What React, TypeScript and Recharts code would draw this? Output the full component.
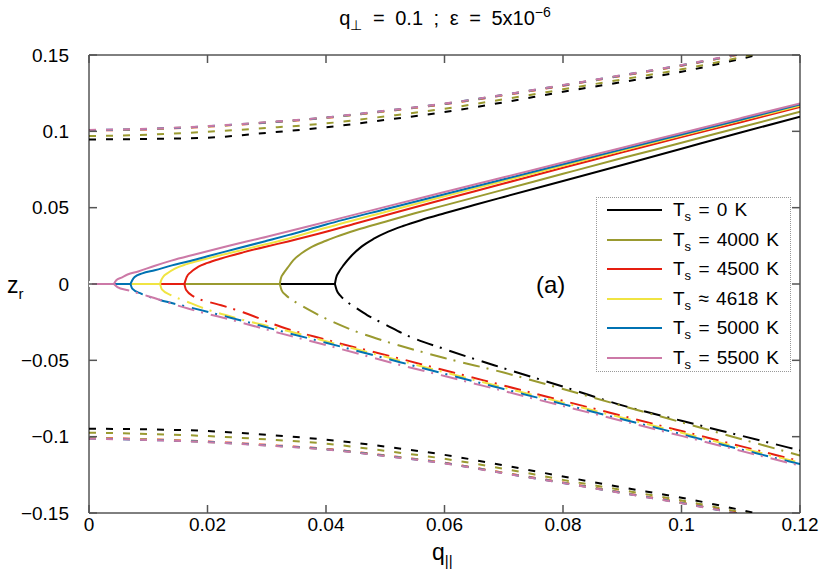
import { Line, LineChart, XAxis, YAxis } from "recharts";

type Pt = [number, number];

const Q_TICKS = [0, 0.02, 0.04, 0.06, 0.08, 0.1, 0.12];
const Z_TICKS = [-0.15, -0.1, -0.05, 0, 0.05, 0.1, 0.15];

const TEMPS = ["= 0 K", "= 4000 K", "= 4500 K", "≈ 4618 K", "= 5000 K", "= 5500 K"];
const COLORS = ["#000000", "#9a9a30", "#e51e10", "#f0e442", "#0072b2", "#cc79a7"];

// q where each curve leaves z = 0
const BRANCH_Q = [0.0415, 0.0322, 0.0161, 0.012, 0.007, 0.0042];

// outer (dashed) branches, sampled on a common q grid
const OUTER_Q = [0, 0.01, 0.02, 0.03, 0.04, 0.05, 0.06, 0.07, 0.08, 0.09, 0.1, 0.11, 0.116];

const topBlack = [0.0947, 0.095, 0.0958, 0.099, 0.1026, 0.1075, 0.1126, 0.119, 0.1259, 0.1323, 0.139, 0.1475, 0.153];
const topOlive = [0.0969, 0.0978, 0.0997, 0.1022, 0.1052, 0.1098, 0.1148, 0.121, 0.1275, 0.134, 0.1406, 0.1485, 0.154];
const topRed = [0.1005, 0.1013, 0.1031, 0.1057, 0.1088, 0.1131, 0.1178, 0.1236, 0.1299, 0.1364, 0.143, 0.1505, 0.1553];
const topYellow = [0.1006, 0.1015, 0.1032, 0.1058, 0.1089, 0.1133, 0.118, 0.1238, 0.1301, 0.1366, 0.1432, 0.1507, 0.1556];
const topBlue = [0.1008, 0.1016, 0.1033, 0.1059, 0.109, 0.1134, 0.1181, 0.1239, 0.1302, 0.1367, 0.1433, 0.1508, 0.1558];
const topPink = [0.1009, 0.1017, 0.1034, 0.106, 0.1091, 0.1135, 0.1182, 0.124, 0.1303, 0.1368, 0.1434, 0.151, 0.156];

const bottomBlack = [-0.0948, -0.0952, -0.0963, -0.0988, -0.102, -0.1065, -0.1119, -0.1188, -0.1261, -0.1332, -0.14, -0.148, -0.153];
const bottomOlive = [-0.0974, -0.0982, -0.0996, -0.1018, -0.1046, -0.1093, -0.1145, -0.121, -0.1283, -0.135, -0.1418, -0.1495, -0.154];
const bottomRed = [-0.1008, -0.1017, -0.1032, -0.1054, -0.108, -0.1123, -0.1171, -0.1236, -0.13, -0.1366, -0.1432, -0.1506, -0.1553];
const bottomYellow = [-0.101, -0.1019, -0.1034, -0.1056, -0.1082, -0.1125, -0.1173, -0.1238, -0.1302, -0.1368, -0.1434, -0.1508, -0.1556];
const bottomBlue = [-0.1012, -0.1021, -0.1035, -0.1057, -0.1083, -0.1126, -0.1174, -0.1239, -0.1303, -0.1369, -0.1435, -0.1509, -0.1558];
const bottomPink = [-0.1013, -0.1022, -0.1036, -0.1058, -0.1084, -0.1127, -0.1175, -0.124, -0.1304, -0.137, -0.1436, -0.151, -0.156];

// inner upper branches (solid)
const upperBlack: Pt[] = [
  [0.0415, 0], [0.0417, 0.004], [0.0422, 0.008], [0.043, 0.0125], [0.0443, 0.0185], [0.046, 0.0245],
  [0.048, 0.0295], [0.0505, 0.0343], [0.053, 0.038], [0.056, 0.0418], [0.06, 0.0463], [0.065, 0.0517],
  [0.07, 0.057], [0.08, 0.0675], [0.09, 0.078], [0.1, 0.0886], [0.11, 0.0992], [0.12, 0.1096],
];
const upperOlive: Pt[] = [
  [0.0322, 0], [0.0324, 0.004], [0.0328, 0.0068], [0.0335, 0.0105], [0.0345, 0.0156], [0.036, 0.0205],
  [0.0373, 0.0237], [0.04, 0.0283], [0.0418, 0.031], [0.045, 0.0352], [0.05, 0.0408], [0.055, 0.0463],
  [0.06, 0.0515], [0.07, 0.0618], [0.08, 0.0722], [0.09, 0.0825], [0.1, 0.0925], [0.11, 0.1027], [0.12, 0.1128],
];
const upperRed: Pt[] = [
  [0.0161, 0], [0.0163, 0.0025], [0.0165, 0.0046], [0.0172, 0.0078], [0.0184, 0.0112], [0.02, 0.0138],
  [0.0223, 0.0167], [0.026, 0.0207], [0.03, 0.0246], [0.0336, 0.0279], [0.04, 0.0342], [0.045, 0.0396],
  [0.0525, 0.0477], [0.06, 0.0555], [0.07, 0.0658], [0.08, 0.0762], [0.09, 0.0862], [0.1, 0.0962],
  [0.11, 0.106], [0.12, 0.116],
];
const upperYellow: Pt[] = [
  [0.012, 0], [0.0122, 0.0025], [0.0125, 0.0046], [0.0133, 0.0072], [0.0145, 0.0101], [0.0165, 0.013],
  [0.0195, 0.0162], [0.025, 0.0215], [0.03, 0.0262], [0.0336, 0.0297], [0.04, 0.0368], [0.05, 0.0472],
  [0.06, 0.0574], [0.07, 0.0675], [0.08, 0.0775], [0.09, 0.0874], [0.1, 0.0972], [0.11, 0.107], [0.12, 0.1168],
];
const upperBlue: Pt[] = [
  [0.007, 0], [0.0073, 0.0025], [0.0077, 0.0046], [0.009, 0.007], [0.0111, 0.009], [0.014, 0.0122],
  [0.0167, 0.0147], [0.02, 0.0182], [0.025, 0.0232], [0.03, 0.0283], [0.0336, 0.032], [0.04, 0.039],
  [0.05, 0.049], [0.06, 0.0588], [0.07, 0.0686], [0.08, 0.0784], [0.09, 0.0882], [0.1, 0.0979],
  [0.11, 0.1076], [0.12, 0.1176],
];
const upperPink: Pt[] = [
  [0.0042, 0], [0.0046, 0.0025], [0.0055, 0.0042], [0.0065, 0.0062], [0.0083, 0.0082], [0.011, 0.0118],
  [0.0139, 0.0153], [0.018, 0.0195], [0.0223, 0.0238], [0.03, 0.031], [0.04, 0.0407], [0.05, 0.0505],
  [0.06, 0.0602], [0.07, 0.0699], [0.08, 0.0796], [0.09, 0.0893], [0.1, 0.0989], [0.11, 0.1086], [0.12, 0.1183],
];

// inner lower branches (dash-dot)
const lowerBlack: Pt[] = [
  [0.0415, 0], [0.0418, -0.004], [0.0425, -0.008], [0.0435, -0.0115], [0.045, -0.0155], [0.047, -0.0205],
  [0.05, -0.0265], [0.0536, -0.0336], [0.06, -0.0426], [0.07, -0.0552], [0.08, -0.0672], [0.09, -0.0795],
  [0.1, -0.0896], [0.11, -0.0993], [0.12, -0.109],
];
const lowerOlive: Pt[] = [
  [0.0322, 0], [0.0325, -0.004], [0.0332, -0.0072], [0.0345, -0.011], [0.036, -0.0145], [0.038, -0.0188],
  [0.0412, -0.0249], [0.045, -0.031], [0.05, -0.0375], [0.055, -0.0432], [0.06, -0.0485], [0.07, -0.058],
  [0.08, -0.0688], [0.09, -0.0798], [0.1, -0.0906], [0.11, -0.1015], [0.12, -0.1123],
];
const lowerRed: Pt[] = [
  [0.0161, 0], [0.0164, -0.004], [0.0178, -0.0085], [0.02, -0.0115], [0.0223, -0.0139], [0.026, -0.0185],
  [0.0325, -0.0282], [0.04, -0.0365], [0.0525, -0.0489], [0.06, -0.0565], [0.07, -0.0665], [0.08, -0.0765],
  [0.09, -0.0864], [0.1, -0.0963], [0.11, -0.1062], [0.12, -0.116],
];
const lowerYellow: Pt[] = [
  [0.012, 0], [0.0123, -0.0035], [0.0139, -0.0074], [0.0165, -0.0115], [0.0195, -0.0161], [0.025, -0.0225],
  [0.0325, -0.0297], [0.04, -0.0375], [0.0525, -0.0502], [0.06, -0.0578], [0.07, -0.0678], [0.08, -0.0777],
  [0.09, -0.0876], [0.1, -0.0974], [0.11, -0.1073], [0.12, -0.117],
];
const lowerBlue: Pt[] = [
  [0.007, 0], [0.0073, -0.003], [0.0088, -0.0063], [0.012, -0.0105], [0.0167, -0.015], [0.025, -0.0232],
  [0.0325, -0.031], [0.04, -0.0385], [0.0525, -0.0512], [0.06, -0.0588], [0.07, -0.0688], [0.08, -0.0787],
  [0.09, -0.0886], [0.1, -0.0984], [0.11, -0.1083], [0.12, -0.118],
];
const lowerPink: Pt[] = [
  [0.0042, 0], [0.0048, -0.002], [0.0066, -0.0041], [0.01, -0.008], [0.0167, -0.0161], [0.025, -0.0245],
  [0.0325, -0.0325], [0.04, -0.04], [0.0525, -0.053], [0.06, -0.0603], [0.07, -0.0701], [0.08, -0.0799],
  [0.09, -0.0897], [0.1, -0.0995], [0.11, -0.1093], [0.12, -0.119],
];

const UPPER = [upperBlack, upperOlive, upperRed, upperYellow, upperBlue, upperPink];
const LOWER = [lowerBlack, lowerOlive, lowerRed, lowerYellow, lowerBlue, lowerPink];
const TOP = [topBlack, topOlive, topRed, topYellow, topBlue, topPink];
const BOTTOM = [bottomBlack, bottomOlive, bottomRed, bottomYellow, bottomBlue, bottomPink];

const fromPairs = (pts: Pt[]) => pts.map(([q, z]) => ({ q, z }));
const onGrid = (zs: number[]) => OUTER_Q.map((q, i) => ({ q, z: zs[i] }));

const fmt = (v: number) => String(v).replace("-", "\u2212");

const FONT = "'Liberation Sans', Arial, sans-serif";
const TICK_COLOR = "#555";
const TICK_LEN = 8;
const X_GAP = 3;
const Y_GAP = 20;

const ROW_Y = [210, 240, 269, 299, 328, 358];

const abs = (left: number, top: number, extra: object = {}) => ({
  position: "absolute" as const,
  left,
  top,
  fontFamily: FONT,
  color: "#000",
  whiteSpace: "nowrap" as const,
  lineHeight: 1,
  ...extra,
});

type TickProps = { x: number; y: number; payload: { value: number } };

const tickLineStyle = { stroke: TICK_COLOR, strokeWidth: 1.5 };

// gnuplot-style: labels outside, short ticks pointing into the plot
const BottomTick = ({ x, y, payload }: TickProps) => (
  <g>
    <path d={`M${x},${y - X_GAP}v${-TICK_LEN}`} {...tickLineStyle} />
    <text x={x} y={y} dy="0.8em" textAnchor="middle" fontSize={19} fontFamily={FONT} fill="#000">
      {fmt(payload.value)}
    </text>
  </g>
);
const LeftTick = ({ x, y, payload }: TickProps) => (
  <g>
    <path d={`M${x + Y_GAP},${y}h${TICK_LEN}`} {...tickLineStyle} />
    <text x={x} y={y} dy="0.35em" textAnchor="end" fontSize={19} fontFamily={FONT} fill="#000">
      {fmt(payload.value)}
    </text>
  </g>
);
const TopTick = ({ x, y }: TickProps) => <path d={`M${x},${y}v${TICK_LEN}`} {...tickLineStyle} />;
const RightTick = ({ x, y }: TickProps) => <path d={`M${x},${y}h${-TICK_LEN}`} {...tickLineStyle} />;

const seriesProps = {
  dataKey: "z",
  xAxisId: "x",
  yAxisId: "y",
  strokeWidth: 2,
  dot: false,
  activeDot: false,
  isAnimationActive: false,
};

export default function App() {
  const lines = COLORS.flatMap((color, i) => [
    <Line
      key={`flat-${i}`}
      {...seriesProps}
      data={[{ q: 0, z: 0 }, { q: BRANCH_Q[i], z: 0 }]}
      type="linear"
      stroke={color}
    />,
    <Line key={`up-${i}`} {...seriesProps} data={fromPairs(UPPER[i])} type="monotone" stroke={color} />,
    <Line
      key={`low-${i}`}
      {...seriesProps}
      data={fromPairs(LOWER[i])}
      type="monotone"
      stroke={color}
      strokeDasharray="17 7 2 8"
    />,
    <Line
      key={`top-${i}`}
      {...seriesProps}
      data={onGrid(TOP[i])}
      type="monotone"
      stroke={color}
      strokeDasharray="7 10"
    />,
    <Line
      key={`bot-${i}`}
      {...seriesProps}
      data={onGrid(BOTTOM[i])}
      type="monotone"
      stroke={color}
      strokeDasharray="7 10"
    />,
  ]);

  return (
    <div style={{ position: "absolute", left: 0, top: 0, width: 830, height: 581, background: "#fff" }}>
      <LineChart width={830} height={581} margin={{ top: 54, right: 29, bottom: 67, left: 88 }}>
        <XAxis
          xAxisId="x"
          dataKey="q"
          type="number"
          domain={[0, 0.12]}
          ticks={Q_TICKS}
          allowDataOverflow
          interval={0}
          height={1}
          tickSize={0}
          tickMargin={X_GAP}
          tickLine={false}
          axisLine={{ stroke: "#000" }}
          tick={BottomTick}
        />
        <XAxis
          xAxisId="xt"
          orientation="top"
          dataKey="q"
          type="number"
          domain={[0, 0.12]}
          ticks={Q_TICKS}
          allowDataOverflow
          interval={0}
          height={1}
          tickSize={0}
          tickMargin={0}
          tickLine={false}
          axisLine={{ stroke: "#000" }}
          tick={TopTick}
        />
        <YAxis
          yAxisId="y"
          type="number"
          domain={[-0.15, 0.15]}
          ticks={Z_TICKS}
          allowDataOverflow
          interval={0}
          width={1}
          tickSize={0}
          tickMargin={Y_GAP}
          tickLine={false}
          axisLine={{ stroke: "#000" }}
          tick={LeftTick}
        />
        <YAxis
          yAxisId="yr"
          orientation="right"
          type="number"
          domain={[-0.15, 0.15]}
          ticks={Z_TICKS}
          allowDataOverflow
          interval={0}
          width={1}
          tickSize={0}
          tickMargin={0}
          tickLine={false}
          axisLine={{ stroke: "#000" }}
          tick={RightTick}
        />
        {/* invisible anchor so the top/right axes get a scale */}
        <Line
          data={[{ q: 0, z: 0 }]}
          dataKey="z"
          xAxisId="xt"
          yAxisId="yr"
          stroke="none"
          dot={false}
          activeDot={false}
          isAnimationActive={false}
        />
        {lines}
      </LineChart>

      <div
        style={abs(0, 5, {
          width: 830,
          textAlign: "center",
          fontSize: 20,
          paddingLeft: 60,
          boxSizing: "border-box",
          wordSpacing: 5,
        })}
      >
        q<sub style={{ fontSize: 14 }}>⊥</sub> = 0.1 ; ε = 5x10<sup style={{ fontSize: 14 }}>−6</sup>
      </div>

      <div style={abs(7, 274, { fontSize: 23 })}>
        z<sub style={{ fontSize: 15 }}>r</sub>
      </div>

      <div style={abs(432, 541, { fontSize: 23 })}>
        q<sub style={{ fontSize: 15 }}>||</sub>
      </div>

      <div style={abs(536, 273, { fontSize: 24 })}>(a)</div>

      <div
        style={{
          position: "absolute",
          left: 596,
          top: 197,
          width: 195,
          height: 175,
          border: "1px dotted #999",
          boxSizing: "border-box",
          background: "#fff",
        }}
      />
      {TEMPS.map((label, i) => (
        <div key={label}>
          <div
            style={{
              position: "absolute",
              left: 607,
              top: ROW_Y[i] - 1,
              width: 55,
              height: 2,
              background: COLORS[i],
            }}
          />
          <div style={abs(673, ROW_Y[i] - 10, { fontSize: 19, wordSpacing: 2 })}>
            T<sub style={{ fontSize: 13 }}>s</sub> {label}
          </div>
        </div>
      ))}
    </div>
  );
}
